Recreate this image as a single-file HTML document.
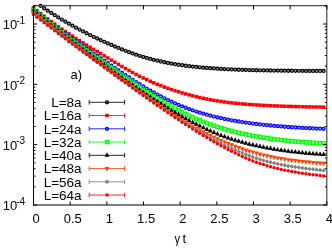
<!DOCTYPE html>
<html><head><meta charset="utf-8"><title>plot</title>
<style>html,body{margin:0;padding:0;background:#fff;}body{width:332px;height:248px;overflow:hidden;position:relative;font-family:"Liberation Sans",sans-serif;}</style></head>
<body>
<svg width="332" height="248" viewBox="0 0 332 248" style="position:absolute;left:0;top:0;will-change:transform">
<rect width="332" height="248" fill="#fff"/>
<clipPath id="c"><rect x="29.5" y="2.0" width="301.3" height="203.0"/></clipPath>
<g clip-path="url(#c)">
<g>
<circle cx="40.58" cy="5.83" r="1.55" fill="#000000" fill-opacity="0.4" stroke="#000000" stroke-width="1.2"/>
<circle cx="44.11" cy="8.27" r="1.55" fill="#000000" fill-opacity="0.4" stroke="#000000" stroke-width="1.2"/>
<circle cx="47.65" cy="10.63" r="1.55" fill="#000000" fill-opacity="0.4" stroke="#000000" stroke-width="1.2"/>
<circle cx="51.19" cy="12.95" r="1.55" fill="#000000" fill-opacity="0.4" stroke="#000000" stroke-width="1.2"/>
<circle cx="54.73" cy="15.21" r="1.55" fill="#000000" fill-opacity="0.4" stroke="#000000" stroke-width="1.2"/>
<circle cx="58.27" cy="17.41" r="1.55" fill="#000000" fill-opacity="0.4" stroke="#000000" stroke-width="1.2"/>
<circle cx="61.80" cy="19.56" r="1.55" fill="#000000" fill-opacity="0.4" stroke="#000000" stroke-width="1.2"/>
<circle cx="65.34" cy="21.66" r="1.55" fill="#000000" fill-opacity="0.4" stroke="#000000" stroke-width="1.2"/>
<circle cx="68.88" cy="23.71" r="1.55" fill="#000000" fill-opacity="0.4" stroke="#000000" stroke-width="1.2"/>
<circle cx="72.42" cy="25.71" r="1.55" fill="#000000" fill-opacity="0.4" stroke="#000000" stroke-width="1.2"/>
<circle cx="75.96" cy="27.66" r="1.55" fill="#000000" fill-opacity="0.4" stroke="#000000" stroke-width="1.2"/>
<circle cx="79.49" cy="29.57" r="1.55" fill="#000000" fill-opacity="0.4" stroke="#000000" stroke-width="1.2"/>
<circle cx="83.03" cy="31.44" r="1.55" fill="#000000" fill-opacity="0.4" stroke="#000000" stroke-width="1.2"/>
<circle cx="86.57" cy="33.26" r="1.55" fill="#000000" fill-opacity="0.4" stroke="#000000" stroke-width="1.2"/>
<circle cx="90.11" cy="35.05" r="1.55" fill="#000000" fill-opacity="0.4" stroke="#000000" stroke-width="1.2"/>
<circle cx="93.64" cy="36.79" r="1.55" fill="#000000" fill-opacity="0.4" stroke="#000000" stroke-width="1.2"/>
<circle cx="97.18" cy="38.50" r="1.55" fill="#000000" fill-opacity="0.4" stroke="#000000" stroke-width="1.2"/>
<circle cx="100.72" cy="40.16" r="1.55" fill="#000000" fill-opacity="0.4" stroke="#000000" stroke-width="1.2"/>
<circle cx="104.26" cy="41.79" r="1.55" fill="#000000" fill-opacity="0.4" stroke="#000000" stroke-width="1.2"/>
<circle cx="107.80" cy="43.40" r="1.55" fill="#000000" fill-opacity="0.4" stroke="#000000" stroke-width="1.2"/>
<circle cx="111.33" cy="44.96" r="1.55" fill="#000000" fill-opacity="0.4" stroke="#000000" stroke-width="1.2"/>
<circle cx="114.87" cy="46.49" r="1.55" fill="#000000" fill-opacity="0.4" stroke="#000000" stroke-width="1.2"/>
<circle cx="118.41" cy="47.97" r="1.55" fill="#000000" fill-opacity="0.4" stroke="#000000" stroke-width="1.2"/>
<circle cx="121.95" cy="49.41" r="1.55" fill="#000000" fill-opacity="0.4" stroke="#000000" stroke-width="1.2"/>
<circle cx="125.49" cy="50.80" r="1.55" fill="#000000" fill-opacity="0.4" stroke="#000000" stroke-width="1.2"/>
<circle cx="129.02" cy="52.14" r="1.55" fill="#000000" fill-opacity="0.4" stroke="#000000" stroke-width="1.2"/>
<circle cx="132.56" cy="53.43" r="1.55" fill="#000000" fill-opacity="0.4" stroke="#000000" stroke-width="1.2"/>
<circle cx="136.10" cy="54.64" r="1.55" fill="#000000" fill-opacity="0.4" stroke="#000000" stroke-width="1.2"/>
<circle cx="139.64" cy="55.81" r="1.55" fill="#000000" fill-opacity="0.4" stroke="#000000" stroke-width="1.2"/>
<circle cx="143.18" cy="56.92" r="1.55" fill="#000000" fill-opacity="0.4" stroke="#000000" stroke-width="1.2"/>
<circle cx="146.71" cy="57.95" r="1.55" fill="#000000" fill-opacity="0.4" stroke="#000000" stroke-width="1.2"/>
<circle cx="150.25" cy="58.93" r="1.55" fill="#000000" fill-opacity="0.4" stroke="#000000" stroke-width="1.2"/>
<circle cx="153.79" cy="59.84" r="1.55" fill="#000000" fill-opacity="0.4" stroke="#000000" stroke-width="1.2"/>
<circle cx="157.33" cy="60.69" r="1.55" fill="#000000" fill-opacity="0.4" stroke="#000000" stroke-width="1.2"/>
<circle cx="160.87" cy="61.49" r="1.55" fill="#000000" fill-opacity="0.4" stroke="#000000" stroke-width="1.2"/>
<circle cx="164.40" cy="62.23" r="1.55" fill="#000000" fill-opacity="0.4" stroke="#000000" stroke-width="1.2"/>
<circle cx="167.94" cy="62.93" r="1.55" fill="#000000" fill-opacity="0.4" stroke="#000000" stroke-width="1.2"/>
<circle cx="171.48" cy="63.58" r="1.55" fill="#000000" fill-opacity="0.4" stroke="#000000" stroke-width="1.2"/>
<circle cx="175.02" cy="64.18" r="1.55" fill="#000000" fill-opacity="0.4" stroke="#000000" stroke-width="1.2"/>
<circle cx="178.56" cy="64.73" r="1.55" fill="#000000" fill-opacity="0.4" stroke="#000000" stroke-width="1.2"/>
<circle cx="182.09" cy="65.25" r="1.55" fill="#000000" fill-opacity="0.4" stroke="#000000" stroke-width="1.2"/>
<circle cx="185.63" cy="65.73" r="1.55" fill="#000000" fill-opacity="0.4" stroke="#000000" stroke-width="1.2"/>
<circle cx="189.17" cy="66.18" r="1.55" fill="#000000" fill-opacity="0.4" stroke="#000000" stroke-width="1.2"/>
<circle cx="192.71" cy="66.59" r="1.55" fill="#000000" fill-opacity="0.4" stroke="#000000" stroke-width="1.2"/>
<circle cx="196.24" cy="66.97" r="1.55" fill="#000000" fill-opacity="0.4" stroke="#000000" stroke-width="1.2"/>
<circle cx="199.78" cy="67.32" r="1.55" fill="#000000" fill-opacity="0.4" stroke="#000000" stroke-width="1.2"/>
<circle cx="203.32" cy="67.64" r="1.55" fill="#000000" fill-opacity="0.4" stroke="#000000" stroke-width="1.2"/>
<circle cx="206.86" cy="67.95" r="1.55" fill="#000000" fill-opacity="0.4" stroke="#000000" stroke-width="1.2"/>
<circle cx="210.40" cy="68.22" r="1.55" fill="#000000" fill-opacity="0.4" stroke="#000000" stroke-width="1.2"/>
<circle cx="213.93" cy="68.47" r="1.55" fill="#000000" fill-opacity="0.4" stroke="#000000" stroke-width="1.2"/>
<circle cx="217.47" cy="68.70" r="1.55" fill="#000000" fill-opacity="0.4" stroke="#000000" stroke-width="1.2"/>
<circle cx="221.01" cy="68.91" r="1.55" fill="#000000" fill-opacity="0.4" stroke="#000000" stroke-width="1.2"/>
<circle cx="224.55" cy="69.11" r="1.55" fill="#000000" fill-opacity="0.4" stroke="#000000" stroke-width="1.2"/>
<circle cx="228.09" cy="69.28" r="1.55" fill="#000000" fill-opacity="0.4" stroke="#000000" stroke-width="1.2"/>
<circle cx="231.62" cy="69.45" r="1.55" fill="#000000" fill-opacity="0.4" stroke="#000000" stroke-width="1.2"/>
<circle cx="235.16" cy="69.59" r="1.55" fill="#000000" fill-opacity="0.4" stroke="#000000" stroke-width="1.2"/>
<circle cx="238.70" cy="69.73" r="1.55" fill="#000000" fill-opacity="0.4" stroke="#000000" stroke-width="1.2"/>
<circle cx="242.24" cy="69.85" r="1.55" fill="#000000" fill-opacity="0.4" stroke="#000000" stroke-width="1.2"/>
<circle cx="245.78" cy="69.96" r="1.55" fill="#000000" fill-opacity="0.4" stroke="#000000" stroke-width="1.2"/>
<circle cx="249.31" cy="70.07" r="1.55" fill="#000000" fill-opacity="0.4" stroke="#000000" stroke-width="1.2"/>
<circle cx="252.85" cy="70.15" r="1.55" fill="#000000" fill-opacity="0.4" stroke="#000000" stroke-width="1.2"/>
<circle cx="256.39" cy="70.24" r="1.55" fill="#000000" fill-opacity="0.4" stroke="#000000" stroke-width="1.2"/>
<circle cx="259.93" cy="70.32" r="1.55" fill="#000000" fill-opacity="0.4" stroke="#000000" stroke-width="1.2"/>
<circle cx="263.47" cy="70.39" r="1.55" fill="#000000" fill-opacity="0.4" stroke="#000000" stroke-width="1.2"/>
<circle cx="267.00" cy="70.45" r="1.55" fill="#000000" fill-opacity="0.4" stroke="#000000" stroke-width="1.2"/>
<circle cx="270.54" cy="70.51" r="1.55" fill="#000000" fill-opacity="0.4" stroke="#000000" stroke-width="1.2"/>
<circle cx="274.08" cy="70.56" r="1.55" fill="#000000" fill-opacity="0.4" stroke="#000000" stroke-width="1.2"/>
<circle cx="277.62" cy="70.61" r="1.55" fill="#000000" fill-opacity="0.4" stroke="#000000" stroke-width="1.2"/>
<circle cx="281.16" cy="70.66" r="1.55" fill="#000000" fill-opacity="0.4" stroke="#000000" stroke-width="1.2"/>
<circle cx="284.69" cy="70.70" r="1.55" fill="#000000" fill-opacity="0.4" stroke="#000000" stroke-width="1.2"/>
<circle cx="288.23" cy="70.73" r="1.55" fill="#000000" fill-opacity="0.4" stroke="#000000" stroke-width="1.2"/>
<circle cx="291.77" cy="70.76" r="1.55" fill="#000000" fill-opacity="0.4" stroke="#000000" stroke-width="1.2"/>
<circle cx="295.31" cy="70.79" r="1.55" fill="#000000" fill-opacity="0.4" stroke="#000000" stroke-width="1.2"/>
<circle cx="298.84" cy="70.82" r="1.55" fill="#000000" fill-opacity="0.4" stroke="#000000" stroke-width="1.2"/>
<circle cx="302.38" cy="70.85" r="1.55" fill="#000000" fill-opacity="0.4" stroke="#000000" stroke-width="1.2"/>
<circle cx="305.92" cy="70.88" r="1.55" fill="#000000" fill-opacity="0.4" stroke="#000000" stroke-width="1.2"/>
<circle cx="309.46" cy="70.90" r="1.55" fill="#000000" fill-opacity="0.4" stroke="#000000" stroke-width="1.2"/>
<circle cx="313.00" cy="70.91" r="1.55" fill="#000000" fill-opacity="0.4" stroke="#000000" stroke-width="1.2"/>
<circle cx="316.53" cy="70.93" r="1.55" fill="#000000" fill-opacity="0.4" stroke="#000000" stroke-width="1.2"/>
<circle cx="320.07" cy="70.94" r="1.55" fill="#000000" fill-opacity="0.4" stroke="#000000" stroke-width="1.2"/>
<circle cx="323.61" cy="70.96" r="1.55" fill="#000000" fill-opacity="0.4" stroke="#000000" stroke-width="1.2"/>
</g>
<g>
<rect x="31.75" y="6.09" width="3.5" height="3.5" fill="#ff0000"/>
<rect x="35.29" y="9.00" width="3.5" height="3.5" fill="#ff0000"/>
<rect x="38.83" y="11.82" width="3.5" height="3.5" fill="#ff0000"/>
<rect x="42.36" y="14.57" width="3.5" height="3.5" fill="#ff0000"/>
<rect x="45.90" y="17.25" width="3.5" height="3.5" fill="#ff0000"/>
<rect x="49.44" y="19.85" width="3.5" height="3.5" fill="#ff0000"/>
<rect x="52.98" y="22.40" width="3.5" height="3.5" fill="#ff0000"/>
<rect x="56.52" y="24.90" width="3.5" height="3.5" fill="#ff0000"/>
<rect x="60.05" y="27.34" width="3.5" height="3.5" fill="#ff0000"/>
<rect x="63.59" y="29.73" width="3.5" height="3.5" fill="#ff0000"/>
<rect x="67.13" y="32.08" width="3.5" height="3.5" fill="#ff0000"/>
<rect x="70.67" y="34.39" width="3.5" height="3.5" fill="#ff0000"/>
<rect x="74.21" y="36.67" width="3.5" height="3.5" fill="#ff0000"/>
<rect x="77.74" y="38.91" width="3.5" height="3.5" fill="#ff0000"/>
<rect x="81.28" y="41.13" width="3.5" height="3.5" fill="#ff0000"/>
<rect x="84.82" y="43.33" width="3.5" height="3.5" fill="#ff0000"/>
<rect x="88.36" y="45.50" width="3.5" height="3.5" fill="#ff0000"/>
<rect x="91.89" y="47.66" width="3.5" height="3.5" fill="#ff0000"/>
<rect x="95.43" y="49.82" width="3.5" height="3.5" fill="#ff0000"/>
<rect x="98.97" y="51.96" width="3.5" height="3.5" fill="#ff0000"/>
<rect x="102.51" y="54.10" width="3.5" height="3.5" fill="#ff0000"/>
<rect x="106.05" y="56.24" width="3.5" height="3.5" fill="#ff0000"/>
<rect x="109.58" y="58.38" width="3.5" height="3.5" fill="#ff0000"/>
<rect x="113.12" y="60.51" width="3.5" height="3.5" fill="#ff0000"/>
<rect x="116.66" y="62.62" width="3.5" height="3.5" fill="#ff0000"/>
<rect x="120.20" y="64.71" width="3.5" height="3.5" fill="#ff0000"/>
<rect x="123.74" y="66.76" width="3.5" height="3.5" fill="#ff0000"/>
<rect x="127.27" y="68.77" width="3.5" height="3.5" fill="#ff0000"/>
<rect x="130.81" y="70.74" width="3.5" height="3.5" fill="#ff0000"/>
<rect x="134.35" y="72.65" width="3.5" height="3.5" fill="#ff0000"/>
<rect x="137.89" y="74.49" width="3.5" height="3.5" fill="#ff0000"/>
<rect x="141.43" y="76.27" width="3.5" height="3.5" fill="#ff0000"/>
<rect x="144.96" y="77.96" width="3.5" height="3.5" fill="#ff0000"/>
<rect x="148.50" y="79.58" width="3.5" height="3.5" fill="#ff0000"/>
<rect x="152.04" y="81.12" width="3.5" height="3.5" fill="#ff0000"/>
<rect x="155.58" y="82.58" width="3.5" height="3.5" fill="#ff0000"/>
<rect x="159.12" y="83.98" width="3.5" height="3.5" fill="#ff0000"/>
<rect x="162.65" y="85.31" width="3.5" height="3.5" fill="#ff0000"/>
<rect x="166.19" y="86.58" width="3.5" height="3.5" fill="#ff0000"/>
<rect x="169.73" y="87.79" width="3.5" height="3.5" fill="#ff0000"/>
<rect x="173.27" y="88.94" width="3.5" height="3.5" fill="#ff0000"/>
<rect x="176.81" y="90.05" width="3.5" height="3.5" fill="#ff0000"/>
<rect x="180.34" y="91.12" width="3.5" height="3.5" fill="#ff0000"/>
<rect x="183.88" y="92.14" width="3.5" height="3.5" fill="#ff0000"/>
<rect x="187.42" y="93.11" width="3.5" height="3.5" fill="#ff0000"/>
<rect x="190.96" y="94.04" width="3.5" height="3.5" fill="#ff0000"/>
<rect x="194.49" y="94.92" width="3.5" height="3.5" fill="#ff0000"/>
<rect x="198.03" y="95.75" width="3.5" height="3.5" fill="#ff0000"/>
<rect x="201.57" y="96.53" width="3.5" height="3.5" fill="#ff0000"/>
<rect x="205.11" y="97.27" width="3.5" height="3.5" fill="#ff0000"/>
<rect x="208.65" y="97.96" width="3.5" height="3.5" fill="#ff0000"/>
<rect x="212.18" y="98.61" width="3.5" height="3.5" fill="#ff0000"/>
<rect x="215.72" y="99.20" width="3.5" height="3.5" fill="#ff0000"/>
<rect x="219.26" y="99.74" width="3.5" height="3.5" fill="#ff0000"/>
<rect x="222.80" y="100.23" width="3.5" height="3.5" fill="#ff0000"/>
<rect x="226.34" y="100.69" width="3.5" height="3.5" fill="#ff0000"/>
<rect x="229.87" y="101.11" width="3.5" height="3.5" fill="#ff0000"/>
<rect x="233.41" y="101.49" width="3.5" height="3.5" fill="#ff0000"/>
<rect x="236.95" y="101.84" width="3.5" height="3.5" fill="#ff0000"/>
<rect x="240.49" y="102.16" width="3.5" height="3.5" fill="#ff0000"/>
<rect x="244.03" y="102.45" width="3.5" height="3.5" fill="#ff0000"/>
<rect x="247.56" y="102.71" width="3.5" height="3.5" fill="#ff0000"/>
<rect x="251.10" y="102.96" width="3.5" height="3.5" fill="#ff0000"/>
<rect x="254.64" y="103.18" width="3.5" height="3.5" fill="#ff0000"/>
<rect x="258.18" y="103.40" width="3.5" height="3.5" fill="#ff0000"/>
<rect x="261.72" y="103.60" width="3.5" height="3.5" fill="#ff0000"/>
<rect x="265.25" y="103.78" width="3.5" height="3.5" fill="#ff0000"/>
<rect x="268.79" y="103.94" width="3.5" height="3.5" fill="#ff0000"/>
<rect x="272.33" y="104.09" width="3.5" height="3.5" fill="#ff0000"/>
<rect x="275.87" y="104.24" width="3.5" height="3.5" fill="#ff0000"/>
<rect x="279.41" y="104.37" width="3.5" height="3.5" fill="#ff0000"/>
<rect x="282.94" y="104.49" width="3.5" height="3.5" fill="#ff0000"/>
<rect x="286.48" y="104.61" width="3.5" height="3.5" fill="#ff0000"/>
<rect x="290.02" y="104.72" width="3.5" height="3.5" fill="#ff0000"/>
<rect x="293.56" y="104.81" width="3.5" height="3.5" fill="#ff0000"/>
<rect x="297.09" y="104.90" width="3.5" height="3.5" fill="#ff0000"/>
<rect x="300.63" y="104.99" width="3.5" height="3.5" fill="#ff0000"/>
<rect x="304.17" y="105.06" width="3.5" height="3.5" fill="#ff0000"/>
<rect x="307.71" y="105.14" width="3.5" height="3.5" fill="#ff0000"/>
<rect x="311.25" y="105.21" width="3.5" height="3.5" fill="#ff0000"/>
<rect x="314.78" y="105.27" width="3.5" height="3.5" fill="#ff0000"/>
<rect x="318.32" y="105.33" width="3.5" height="3.5" fill="#ff0000"/>
<rect x="321.86" y="105.39" width="3.5" height="3.5" fill="#ff0000"/>
</g>
<g>
<circle cx="33.50" cy="8.88" r="1.55" fill="#0000ff" fill-opacity="0.4" stroke="#0000ff" stroke-width="1.2"/>
<circle cx="37.04" cy="11.78" r="1.55" fill="#0000ff" fill-opacity="0.4" stroke="#0000ff" stroke-width="1.2"/>
<circle cx="40.58" cy="14.63" r="1.55" fill="#0000ff" fill-opacity="0.4" stroke="#0000ff" stroke-width="1.2"/>
<circle cx="44.11" cy="17.44" r="1.55" fill="#0000ff" fill-opacity="0.4" stroke="#0000ff" stroke-width="1.2"/>
<circle cx="47.65" cy="20.20" r="1.55" fill="#0000ff" fill-opacity="0.4" stroke="#0000ff" stroke-width="1.2"/>
<circle cx="51.19" cy="22.93" r="1.55" fill="#0000ff" fill-opacity="0.4" stroke="#0000ff" stroke-width="1.2"/>
<circle cx="54.73" cy="25.63" r="1.55" fill="#0000ff" fill-opacity="0.4" stroke="#0000ff" stroke-width="1.2"/>
<circle cx="58.27" cy="28.28" r="1.55" fill="#0000ff" fill-opacity="0.4" stroke="#0000ff" stroke-width="1.2"/>
<circle cx="61.80" cy="30.91" r="1.55" fill="#0000ff" fill-opacity="0.4" stroke="#0000ff" stroke-width="1.2"/>
<circle cx="65.34" cy="33.51" r="1.55" fill="#0000ff" fill-opacity="0.4" stroke="#0000ff" stroke-width="1.2"/>
<circle cx="68.88" cy="36.08" r="1.55" fill="#0000ff" fill-opacity="0.4" stroke="#0000ff" stroke-width="1.2"/>
<circle cx="72.42" cy="38.63" r="1.55" fill="#0000ff" fill-opacity="0.4" stroke="#0000ff" stroke-width="1.2"/>
<circle cx="75.96" cy="41.16" r="1.55" fill="#0000ff" fill-opacity="0.4" stroke="#0000ff" stroke-width="1.2"/>
<circle cx="79.49" cy="43.66" r="1.55" fill="#0000ff" fill-opacity="0.4" stroke="#0000ff" stroke-width="1.2"/>
<circle cx="83.03" cy="46.15" r="1.55" fill="#0000ff" fill-opacity="0.4" stroke="#0000ff" stroke-width="1.2"/>
<circle cx="86.57" cy="48.63" r="1.55" fill="#0000ff" fill-opacity="0.4" stroke="#0000ff" stroke-width="1.2"/>
<circle cx="90.11" cy="51.09" r="1.55" fill="#0000ff" fill-opacity="0.4" stroke="#0000ff" stroke-width="1.2"/>
<circle cx="93.64" cy="53.54" r="1.55" fill="#0000ff" fill-opacity="0.4" stroke="#0000ff" stroke-width="1.2"/>
<circle cx="97.18" cy="55.97" r="1.55" fill="#0000ff" fill-opacity="0.4" stroke="#0000ff" stroke-width="1.2"/>
<circle cx="100.72" cy="58.40" r="1.55" fill="#0000ff" fill-opacity="0.4" stroke="#0000ff" stroke-width="1.2"/>
<circle cx="104.26" cy="60.83" r="1.55" fill="#0000ff" fill-opacity="0.4" stroke="#0000ff" stroke-width="1.2"/>
<circle cx="107.80" cy="63.25" r="1.55" fill="#0000ff" fill-opacity="0.4" stroke="#0000ff" stroke-width="1.2"/>
<circle cx="111.33" cy="65.66" r="1.55" fill="#0000ff" fill-opacity="0.4" stroke="#0000ff" stroke-width="1.2"/>
<circle cx="114.87" cy="68.06" r="1.55" fill="#0000ff" fill-opacity="0.4" stroke="#0000ff" stroke-width="1.2"/>
<circle cx="118.41" cy="70.45" r="1.55" fill="#0000ff" fill-opacity="0.4" stroke="#0000ff" stroke-width="1.2"/>
<circle cx="121.95" cy="72.83" r="1.55" fill="#0000ff" fill-opacity="0.4" stroke="#0000ff" stroke-width="1.2"/>
<circle cx="125.49" cy="75.18" r="1.55" fill="#0000ff" fill-opacity="0.4" stroke="#0000ff" stroke-width="1.2"/>
<circle cx="129.02" cy="77.50" r="1.55" fill="#0000ff" fill-opacity="0.4" stroke="#0000ff" stroke-width="1.2"/>
<circle cx="132.56" cy="79.79" r="1.55" fill="#0000ff" fill-opacity="0.4" stroke="#0000ff" stroke-width="1.2"/>
<circle cx="136.10" cy="82.05" r="1.55" fill="#0000ff" fill-opacity="0.4" stroke="#0000ff" stroke-width="1.2"/>
<circle cx="139.64" cy="84.26" r="1.55" fill="#0000ff" fill-opacity="0.4" stroke="#0000ff" stroke-width="1.2"/>
<circle cx="143.18" cy="86.42" r="1.55" fill="#0000ff" fill-opacity="0.4" stroke="#0000ff" stroke-width="1.2"/>
<circle cx="146.71" cy="88.54" r="1.55" fill="#0000ff" fill-opacity="0.4" stroke="#0000ff" stroke-width="1.2"/>
<circle cx="150.25" cy="90.60" r="1.55" fill="#0000ff" fill-opacity="0.4" stroke="#0000ff" stroke-width="1.2"/>
<circle cx="153.79" cy="92.61" r="1.55" fill="#0000ff" fill-opacity="0.4" stroke="#0000ff" stroke-width="1.2"/>
<circle cx="157.33" cy="94.56" r="1.55" fill="#0000ff" fill-opacity="0.4" stroke="#0000ff" stroke-width="1.2"/>
<circle cx="160.87" cy="96.45" r="1.55" fill="#0000ff" fill-opacity="0.4" stroke="#0000ff" stroke-width="1.2"/>
<circle cx="164.40" cy="98.28" r="1.55" fill="#0000ff" fill-opacity="0.4" stroke="#0000ff" stroke-width="1.2"/>
<circle cx="167.94" cy="100.03" r="1.55" fill="#0000ff" fill-opacity="0.4" stroke="#0000ff" stroke-width="1.2"/>
<circle cx="171.48" cy="101.72" r="1.55" fill="#0000ff" fill-opacity="0.4" stroke="#0000ff" stroke-width="1.2"/>
<circle cx="175.02" cy="103.33" r="1.55" fill="#0000ff" fill-opacity="0.4" stroke="#0000ff" stroke-width="1.2"/>
<circle cx="178.56" cy="104.88" r="1.55" fill="#0000ff" fill-opacity="0.4" stroke="#0000ff" stroke-width="1.2"/>
<circle cx="182.09" cy="106.35" r="1.55" fill="#0000ff" fill-opacity="0.4" stroke="#0000ff" stroke-width="1.2"/>
<circle cx="185.63" cy="107.75" r="1.55" fill="#0000ff" fill-opacity="0.4" stroke="#0000ff" stroke-width="1.2"/>
<circle cx="189.17" cy="109.08" r="1.55" fill="#0000ff" fill-opacity="0.4" stroke="#0000ff" stroke-width="1.2"/>
<circle cx="192.71" cy="110.33" r="1.55" fill="#0000ff" fill-opacity="0.4" stroke="#0000ff" stroke-width="1.2"/>
<circle cx="196.24" cy="111.53" r="1.55" fill="#0000ff" fill-opacity="0.4" stroke="#0000ff" stroke-width="1.2"/>
<circle cx="199.78" cy="112.66" r="1.55" fill="#0000ff" fill-opacity="0.4" stroke="#0000ff" stroke-width="1.2"/>
<circle cx="203.32" cy="113.71" r="1.55" fill="#0000ff" fill-opacity="0.4" stroke="#0000ff" stroke-width="1.2"/>
<circle cx="206.86" cy="114.71" r="1.55" fill="#0000ff" fill-opacity="0.4" stroke="#0000ff" stroke-width="1.2"/>
<circle cx="210.40" cy="115.66" r="1.55" fill="#0000ff" fill-opacity="0.4" stroke="#0000ff" stroke-width="1.2"/>
<circle cx="213.93" cy="116.54" r="1.55" fill="#0000ff" fill-opacity="0.4" stroke="#0000ff" stroke-width="1.2"/>
<circle cx="217.47" cy="117.38" r="1.55" fill="#0000ff" fill-opacity="0.4" stroke="#0000ff" stroke-width="1.2"/>
<circle cx="221.01" cy="118.18" r="1.55" fill="#0000ff" fill-opacity="0.4" stroke="#0000ff" stroke-width="1.2"/>
<circle cx="224.55" cy="118.92" r="1.55" fill="#0000ff" fill-opacity="0.4" stroke="#0000ff" stroke-width="1.2"/>
<circle cx="228.09" cy="119.62" r="1.55" fill="#0000ff" fill-opacity="0.4" stroke="#0000ff" stroke-width="1.2"/>
<circle cx="231.62" cy="120.29" r="1.55" fill="#0000ff" fill-opacity="0.4" stroke="#0000ff" stroke-width="1.2"/>
<circle cx="235.16" cy="120.91" r="1.55" fill="#0000ff" fill-opacity="0.4" stroke="#0000ff" stroke-width="1.2"/>
<circle cx="238.70" cy="121.50" r="1.55" fill="#0000ff" fill-opacity="0.4" stroke="#0000ff" stroke-width="1.2"/>
<circle cx="242.24" cy="122.05" r="1.55" fill="#0000ff" fill-opacity="0.4" stroke="#0000ff" stroke-width="1.2"/>
<circle cx="245.78" cy="122.58" r="1.55" fill="#0000ff" fill-opacity="0.4" stroke="#0000ff" stroke-width="1.2"/>
<circle cx="249.31" cy="123.07" r="1.55" fill="#0000ff" fill-opacity="0.4" stroke="#0000ff" stroke-width="1.2"/>
<circle cx="252.85" cy="123.54" r="1.55" fill="#0000ff" fill-opacity="0.4" stroke="#0000ff" stroke-width="1.2"/>
<circle cx="256.39" cy="123.98" r="1.55" fill="#0000ff" fill-opacity="0.4" stroke="#0000ff" stroke-width="1.2"/>
<circle cx="259.93" cy="124.39" r="1.55" fill="#0000ff" fill-opacity="0.4" stroke="#0000ff" stroke-width="1.2"/>
<circle cx="263.47" cy="124.79" r="1.55" fill="#0000ff" fill-opacity="0.4" stroke="#0000ff" stroke-width="1.2"/>
<circle cx="267.00" cy="125.17" r="1.55" fill="#0000ff" fill-opacity="0.4" stroke="#0000ff" stroke-width="1.2"/>
<circle cx="270.54" cy="125.51" r="1.55" fill="#0000ff" fill-opacity="0.4" stroke="#0000ff" stroke-width="1.2"/>
<circle cx="274.08" cy="125.84" r="1.55" fill="#0000ff" fill-opacity="0.4" stroke="#0000ff" stroke-width="1.2"/>
<circle cx="277.62" cy="126.16" r="1.55" fill="#0000ff" fill-opacity="0.4" stroke="#0000ff" stroke-width="1.2"/>
<circle cx="281.16" cy="126.46" r="1.55" fill="#0000ff" fill-opacity="0.4" stroke="#0000ff" stroke-width="1.2"/>
<circle cx="284.69" cy="126.74" r="1.55" fill="#0000ff" fill-opacity="0.4" stroke="#0000ff" stroke-width="1.2"/>
<circle cx="288.23" cy="127.00" r="1.55" fill="#0000ff" fill-opacity="0.4" stroke="#0000ff" stroke-width="1.2"/>
<circle cx="291.77" cy="127.25" r="1.55" fill="#0000ff" fill-opacity="0.4" stroke="#0000ff" stroke-width="1.2"/>
<circle cx="295.31" cy="127.49" r="1.55" fill="#0000ff" fill-opacity="0.4" stroke="#0000ff" stroke-width="1.2"/>
<circle cx="298.84" cy="127.70" r="1.55" fill="#0000ff" fill-opacity="0.4" stroke="#0000ff" stroke-width="1.2"/>
<circle cx="302.38" cy="127.90" r="1.55" fill="#0000ff" fill-opacity="0.4" stroke="#0000ff" stroke-width="1.2"/>
<circle cx="305.92" cy="128.10" r="1.55" fill="#0000ff" fill-opacity="0.4" stroke="#0000ff" stroke-width="1.2"/>
<circle cx="309.46" cy="128.27" r="1.55" fill="#0000ff" fill-opacity="0.4" stroke="#0000ff" stroke-width="1.2"/>
<circle cx="313.00" cy="128.43" r="1.55" fill="#0000ff" fill-opacity="0.4" stroke="#0000ff" stroke-width="1.2"/>
<circle cx="316.53" cy="128.58" r="1.55" fill="#0000ff" fill-opacity="0.4" stroke="#0000ff" stroke-width="1.2"/>
<circle cx="320.07" cy="128.71" r="1.55" fill="#0000ff" fill-opacity="0.4" stroke="#0000ff" stroke-width="1.2"/>
<circle cx="323.61" cy="128.84" r="1.55" fill="#0000ff" fill-opacity="0.4" stroke="#0000ff" stroke-width="1.2"/>
</g>
<g>
<rect x="31.80" y="8.18" width="3.4" height="3.4" fill="#00ff00" fill-opacity="0.4" stroke="#00ff00" stroke-width="1.15"/>
<rect x="35.34" y="11.10" width="3.4" height="3.4" fill="#00ff00" fill-opacity="0.4" stroke="#00ff00" stroke-width="1.15"/>
<rect x="38.88" y="13.99" width="3.4" height="3.4" fill="#00ff00" fill-opacity="0.4" stroke="#00ff00" stroke-width="1.15"/>
<rect x="42.41" y="16.84" width="3.4" height="3.4" fill="#00ff00" fill-opacity="0.4" stroke="#00ff00" stroke-width="1.15"/>
<rect x="45.95" y="19.66" width="3.4" height="3.4" fill="#00ff00" fill-opacity="0.4" stroke="#00ff00" stroke-width="1.15"/>
<rect x="49.49" y="22.45" width="3.4" height="3.4" fill="#00ff00" fill-opacity="0.4" stroke="#00ff00" stroke-width="1.15"/>
<rect x="53.03" y="25.20" width="3.4" height="3.4" fill="#00ff00" fill-opacity="0.4" stroke="#00ff00" stroke-width="1.15"/>
<rect x="56.57" y="27.93" width="3.4" height="3.4" fill="#00ff00" fill-opacity="0.4" stroke="#00ff00" stroke-width="1.15"/>
<rect x="60.10" y="30.63" width="3.4" height="3.4" fill="#00ff00" fill-opacity="0.4" stroke="#00ff00" stroke-width="1.15"/>
<rect x="63.64" y="33.30" width="3.4" height="3.4" fill="#00ff00" fill-opacity="0.4" stroke="#00ff00" stroke-width="1.15"/>
<rect x="67.18" y="35.95" width="3.4" height="3.4" fill="#00ff00" fill-opacity="0.4" stroke="#00ff00" stroke-width="1.15"/>
<rect x="70.72" y="38.59" width="3.4" height="3.4" fill="#00ff00" fill-opacity="0.4" stroke="#00ff00" stroke-width="1.15"/>
<rect x="74.26" y="41.20" width="3.4" height="3.4" fill="#00ff00" fill-opacity="0.4" stroke="#00ff00" stroke-width="1.15"/>
<rect x="77.79" y="43.79" width="3.4" height="3.4" fill="#00ff00" fill-opacity="0.4" stroke="#00ff00" stroke-width="1.15"/>
<rect x="81.33" y="46.36" width="3.4" height="3.4" fill="#00ff00" fill-opacity="0.4" stroke="#00ff00" stroke-width="1.15"/>
<rect x="84.87" y="48.92" width="3.4" height="3.4" fill="#00ff00" fill-opacity="0.4" stroke="#00ff00" stroke-width="1.15"/>
<rect x="88.41" y="51.46" width="3.4" height="3.4" fill="#00ff00" fill-opacity="0.4" stroke="#00ff00" stroke-width="1.15"/>
<rect x="91.94" y="53.99" width="3.4" height="3.4" fill="#00ff00" fill-opacity="0.4" stroke="#00ff00" stroke-width="1.15"/>
<rect x="95.48" y="56.51" width="3.4" height="3.4" fill="#00ff00" fill-opacity="0.4" stroke="#00ff00" stroke-width="1.15"/>
<rect x="99.02" y="59.02" width="3.4" height="3.4" fill="#00ff00" fill-opacity="0.4" stroke="#00ff00" stroke-width="1.15"/>
<rect x="102.56" y="61.52" width="3.4" height="3.4" fill="#00ff00" fill-opacity="0.4" stroke="#00ff00" stroke-width="1.15"/>
<rect x="106.10" y="64.00" width="3.4" height="3.4" fill="#00ff00" fill-opacity="0.4" stroke="#00ff00" stroke-width="1.15"/>
<rect x="109.63" y="66.48" width="3.4" height="3.4" fill="#00ff00" fill-opacity="0.4" stroke="#00ff00" stroke-width="1.15"/>
<rect x="113.17" y="68.96" width="3.4" height="3.4" fill="#00ff00" fill-opacity="0.4" stroke="#00ff00" stroke-width="1.15"/>
<rect x="116.71" y="71.42" width="3.4" height="3.4" fill="#00ff00" fill-opacity="0.4" stroke="#00ff00" stroke-width="1.15"/>
<rect x="120.25" y="73.86" width="3.4" height="3.4" fill="#00ff00" fill-opacity="0.4" stroke="#00ff00" stroke-width="1.15"/>
<rect x="123.79" y="76.29" width="3.4" height="3.4" fill="#00ff00" fill-opacity="0.4" stroke="#00ff00" stroke-width="1.15"/>
<rect x="127.32" y="78.70" width="3.4" height="3.4" fill="#00ff00" fill-opacity="0.4" stroke="#00ff00" stroke-width="1.15"/>
<rect x="130.86" y="81.08" width="3.4" height="3.4" fill="#00ff00" fill-opacity="0.4" stroke="#00ff00" stroke-width="1.15"/>
<rect x="134.40" y="83.43" width="3.4" height="3.4" fill="#00ff00" fill-opacity="0.4" stroke="#00ff00" stroke-width="1.15"/>
<rect x="137.94" y="85.76" width="3.4" height="3.4" fill="#00ff00" fill-opacity="0.4" stroke="#00ff00" stroke-width="1.15"/>
<rect x="141.48" y="88.06" width="3.4" height="3.4" fill="#00ff00" fill-opacity="0.4" stroke="#00ff00" stroke-width="1.15"/>
<rect x="145.01" y="90.32" width="3.4" height="3.4" fill="#00ff00" fill-opacity="0.4" stroke="#00ff00" stroke-width="1.15"/>
<rect x="148.55" y="92.55" width="3.4" height="3.4" fill="#00ff00" fill-opacity="0.4" stroke="#00ff00" stroke-width="1.15"/>
<rect x="152.09" y="94.74" width="3.4" height="3.4" fill="#00ff00" fill-opacity="0.4" stroke="#00ff00" stroke-width="1.15"/>
<rect x="155.63" y="96.89" width="3.4" height="3.4" fill="#00ff00" fill-opacity="0.4" stroke="#00ff00" stroke-width="1.15"/>
<rect x="159.17" y="98.99" width="3.4" height="3.4" fill="#00ff00" fill-opacity="0.4" stroke="#00ff00" stroke-width="1.15"/>
<rect x="162.70" y="101.05" width="3.4" height="3.4" fill="#00ff00" fill-opacity="0.4" stroke="#00ff00" stroke-width="1.15"/>
<rect x="166.24" y="103.06" width="3.4" height="3.4" fill="#00ff00" fill-opacity="0.4" stroke="#00ff00" stroke-width="1.15"/>
<rect x="169.78" y="105.02" width="3.4" height="3.4" fill="#00ff00" fill-opacity="0.4" stroke="#00ff00" stroke-width="1.15"/>
<rect x="173.32" y="106.93" width="3.4" height="3.4" fill="#00ff00" fill-opacity="0.4" stroke="#00ff00" stroke-width="1.15"/>
<rect x="176.86" y="108.78" width="3.4" height="3.4" fill="#00ff00" fill-opacity="0.4" stroke="#00ff00" stroke-width="1.15"/>
<rect x="180.39" y="110.58" width="3.4" height="3.4" fill="#00ff00" fill-opacity="0.4" stroke="#00ff00" stroke-width="1.15"/>
<rect x="183.93" y="112.31" width="3.4" height="3.4" fill="#00ff00" fill-opacity="0.4" stroke="#00ff00" stroke-width="1.15"/>
<rect x="187.47" y="113.99" width="3.4" height="3.4" fill="#00ff00" fill-opacity="0.4" stroke="#00ff00" stroke-width="1.15"/>
<rect x="191.01" y="115.61" width="3.4" height="3.4" fill="#00ff00" fill-opacity="0.4" stroke="#00ff00" stroke-width="1.15"/>
<rect x="194.54" y="117.17" width="3.4" height="3.4" fill="#00ff00" fill-opacity="0.4" stroke="#00ff00" stroke-width="1.15"/>
<rect x="198.08" y="118.67" width="3.4" height="3.4" fill="#00ff00" fill-opacity="0.4" stroke="#00ff00" stroke-width="1.15"/>
<rect x="201.62" y="120.11" width="3.4" height="3.4" fill="#00ff00" fill-opacity="0.4" stroke="#00ff00" stroke-width="1.15"/>
<rect x="205.16" y="121.48" width="3.4" height="3.4" fill="#00ff00" fill-opacity="0.4" stroke="#00ff00" stroke-width="1.15"/>
<rect x="208.70" y="122.78" width="3.4" height="3.4" fill="#00ff00" fill-opacity="0.4" stroke="#00ff00" stroke-width="1.15"/>
<rect x="212.23" y="124.03" width="3.4" height="3.4" fill="#00ff00" fill-opacity="0.4" stroke="#00ff00" stroke-width="1.15"/>
<rect x="215.77" y="125.22" width="3.4" height="3.4" fill="#00ff00" fill-opacity="0.4" stroke="#00ff00" stroke-width="1.15"/>
<rect x="219.31" y="126.35" width="3.4" height="3.4" fill="#00ff00" fill-opacity="0.4" stroke="#00ff00" stroke-width="1.15"/>
<rect x="222.85" y="127.41" width="3.4" height="3.4" fill="#00ff00" fill-opacity="0.4" stroke="#00ff00" stroke-width="1.15"/>
<rect x="226.39" y="128.42" width="3.4" height="3.4" fill="#00ff00" fill-opacity="0.4" stroke="#00ff00" stroke-width="1.15"/>
<rect x="229.92" y="129.37" width="3.4" height="3.4" fill="#00ff00" fill-opacity="0.4" stroke="#00ff00" stroke-width="1.15"/>
<rect x="233.46" y="130.27" width="3.4" height="3.4" fill="#00ff00" fill-opacity="0.4" stroke="#00ff00" stroke-width="1.15"/>
<rect x="237.00" y="131.12" width="3.4" height="3.4" fill="#00ff00" fill-opacity="0.4" stroke="#00ff00" stroke-width="1.15"/>
<rect x="240.54" y="131.93" width="3.4" height="3.4" fill="#00ff00" fill-opacity="0.4" stroke="#00ff00" stroke-width="1.15"/>
<rect x="244.08" y="132.68" width="3.4" height="3.4" fill="#00ff00" fill-opacity="0.4" stroke="#00ff00" stroke-width="1.15"/>
<rect x="247.61" y="133.40" width="3.4" height="3.4" fill="#00ff00" fill-opacity="0.4" stroke="#00ff00" stroke-width="1.15"/>
<rect x="251.15" y="134.08" width="3.4" height="3.4" fill="#00ff00" fill-opacity="0.4" stroke="#00ff00" stroke-width="1.15"/>
<rect x="254.69" y="134.73" width="3.4" height="3.4" fill="#00ff00" fill-opacity="0.4" stroke="#00ff00" stroke-width="1.15"/>
<rect x="258.23" y="135.34" width="3.4" height="3.4" fill="#00ff00" fill-opacity="0.4" stroke="#00ff00" stroke-width="1.15"/>
<rect x="261.77" y="135.92" width="3.4" height="3.4" fill="#00ff00" fill-opacity="0.4" stroke="#00ff00" stroke-width="1.15"/>
<rect x="265.30" y="136.46" width="3.4" height="3.4" fill="#00ff00" fill-opacity="0.4" stroke="#00ff00" stroke-width="1.15"/>
<rect x="268.84" y="136.98" width="3.4" height="3.4" fill="#00ff00" fill-opacity="0.4" stroke="#00ff00" stroke-width="1.15"/>
<rect x="272.38" y="137.47" width="3.4" height="3.4" fill="#00ff00" fill-opacity="0.4" stroke="#00ff00" stroke-width="1.15"/>
<rect x="275.92" y="137.92" width="3.4" height="3.4" fill="#00ff00" fill-opacity="0.4" stroke="#00ff00" stroke-width="1.15"/>
<rect x="279.46" y="138.36" width="3.4" height="3.4" fill="#00ff00" fill-opacity="0.4" stroke="#00ff00" stroke-width="1.15"/>
<rect x="282.99" y="138.76" width="3.4" height="3.4" fill="#00ff00" fill-opacity="0.4" stroke="#00ff00" stroke-width="1.15"/>
<rect x="286.53" y="139.14" width="3.4" height="3.4" fill="#00ff00" fill-opacity="0.4" stroke="#00ff00" stroke-width="1.15"/>
<rect x="290.07" y="139.49" width="3.4" height="3.4" fill="#00ff00" fill-opacity="0.4" stroke="#00ff00" stroke-width="1.15"/>
<rect x="293.61" y="139.82" width="3.4" height="3.4" fill="#00ff00" fill-opacity="0.4" stroke="#00ff00" stroke-width="1.15"/>
<rect x="297.14" y="140.13" width="3.4" height="3.4" fill="#00ff00" fill-opacity="0.4" stroke="#00ff00" stroke-width="1.15"/>
<rect x="300.68" y="140.41" width="3.4" height="3.4" fill="#00ff00" fill-opacity="0.4" stroke="#00ff00" stroke-width="1.15"/>
<rect x="304.22" y="140.67" width="3.4" height="3.4" fill="#00ff00" fill-opacity="0.4" stroke="#00ff00" stroke-width="1.15"/>
<rect x="307.76" y="140.90" width="3.4" height="3.4" fill="#00ff00" fill-opacity="0.4" stroke="#00ff00" stroke-width="1.15"/>
<rect x="311.30" y="141.12" width="3.4" height="3.4" fill="#00ff00" fill-opacity="0.4" stroke="#00ff00" stroke-width="1.15"/>
<rect x="314.83" y="141.32" width="3.4" height="3.4" fill="#00ff00" fill-opacity="0.4" stroke="#00ff00" stroke-width="1.15"/>
<rect x="318.37" y="141.50" width="3.4" height="3.4" fill="#00ff00" fill-opacity="0.4" stroke="#00ff00" stroke-width="1.15"/>
<rect x="321.91" y="141.65" width="3.4" height="3.4" fill="#00ff00" fill-opacity="0.4" stroke="#00ff00" stroke-width="1.15"/>
</g>
<g>
<path d="M33.50 8.04L35.90 12.53L31.10 12.53Z" fill="#000000"/>
<path d="M37.04 10.93L39.44 15.41L34.64 15.41Z" fill="#000000"/>
<path d="M40.58 13.78L42.98 18.27L38.18 18.27Z" fill="#000000"/>
<path d="M44.11 16.62L46.51 21.11L41.71 21.11Z" fill="#000000"/>
<path d="M47.65 19.43L50.05 23.92L45.25 23.92Z" fill="#000000"/>
<path d="M51.19 22.23L53.59 26.71L48.79 26.71Z" fill="#000000"/>
<path d="M54.73 25.00L57.13 29.49L52.33 29.49Z" fill="#000000"/>
<path d="M58.27 27.75L60.67 32.23L55.87 32.23Z" fill="#000000"/>
<path d="M61.80 30.48L64.20 34.97L59.40 34.97Z" fill="#000000"/>
<path d="M65.34 33.20L67.74 37.69L62.94 37.69Z" fill="#000000"/>
<path d="M68.88 35.90L71.28 40.38L66.48 40.38Z" fill="#000000"/>
<path d="M72.42 38.58L74.82 43.06L70.02 43.06Z" fill="#000000"/>
<path d="M75.96 41.24L78.36 45.73L73.56 45.73Z" fill="#000000"/>
<path d="M79.49 43.90L81.89 48.38L77.09 48.38Z" fill="#000000"/>
<path d="M83.03 46.53L85.43 51.02L80.63 51.02Z" fill="#000000"/>
<path d="M86.57 49.16L88.97 53.65L84.17 53.65Z" fill="#000000"/>
<path d="M90.11 51.77L92.51 56.26L87.71 56.26Z" fill="#000000"/>
<path d="M93.64 54.37L96.04 58.86L91.24 58.86Z" fill="#000000"/>
<path d="M97.18 56.95L99.58 61.44L94.78 61.44Z" fill="#000000"/>
<path d="M100.72 59.52L103.12 64.01L98.32 64.01Z" fill="#000000"/>
<path d="M104.26 62.09L106.66 66.57L101.86 66.57Z" fill="#000000"/>
<path d="M107.80 64.64L110.20 69.13L105.40 69.13Z" fill="#000000"/>
<path d="M111.33 67.17L113.73 71.66L108.93 71.66Z" fill="#000000"/>
<path d="M114.87 69.70L117.27 74.19L112.47 74.19Z" fill="#000000"/>
<path d="M118.41 72.21L120.81 76.69L116.01 76.69Z" fill="#000000"/>
<path d="M121.95 74.70L124.35 79.19L119.55 79.19Z" fill="#000000"/>
<path d="M125.49 77.18L127.89 81.67L123.09 81.67Z" fill="#000000"/>
<path d="M129.02 79.65L131.42 84.14L126.62 84.14Z" fill="#000000"/>
<path d="M132.56 82.09L134.96 86.58L130.16 86.58Z" fill="#000000"/>
<path d="M136.10 84.52L138.50 89.01L133.70 89.01Z" fill="#000000"/>
<path d="M139.64 86.93L142.04 91.41L137.24 91.41Z" fill="#000000"/>
<path d="M143.18 89.31L145.58 93.80L140.78 93.80Z" fill="#000000"/>
<path d="M146.71 91.68L149.11 96.17L144.31 96.17Z" fill="#000000"/>
<path d="M150.25 94.01L152.65 98.50L147.85 98.50Z" fill="#000000"/>
<path d="M153.79 96.32L156.19 100.81L151.39 100.81Z" fill="#000000"/>
<path d="M157.33 98.60L159.73 103.09L154.93 103.09Z" fill="#000000"/>
<path d="M160.87 100.86L163.27 105.35L158.47 105.35Z" fill="#000000"/>
<path d="M164.40 103.08L166.80 107.57L162.00 107.57Z" fill="#000000"/>
<path d="M167.94 105.27L170.34 109.76L165.54 109.76Z" fill="#000000"/>
<path d="M171.48 107.42L173.88 111.91L169.08 111.91Z" fill="#000000"/>
<path d="M175.02 109.53L177.42 114.02L172.62 114.02Z" fill="#000000"/>
<path d="M178.56 111.61L180.96 116.10L176.16 116.10Z" fill="#000000"/>
<path d="M182.09 113.64L184.49 118.13L179.69 118.13Z" fill="#000000"/>
<path d="M185.63 115.63L188.03 120.11L183.23 120.11Z" fill="#000000"/>
<path d="M189.17 117.57L191.57 122.06L186.77 122.06Z" fill="#000000"/>
<path d="M192.71 119.45L195.11 123.94L190.31 123.94Z" fill="#000000"/>
<path d="M196.24 121.29L198.64 125.77L193.84 125.77Z" fill="#000000"/>
<path d="M199.78 123.07L202.18 127.55L197.38 127.55Z" fill="#000000"/>
<path d="M203.32 124.78L205.72 129.27L200.92 129.27Z" fill="#000000"/>
<path d="M206.86 126.44L209.26 130.93L204.46 130.93Z" fill="#000000"/>
<path d="M210.40 128.04L212.80 132.52L208.00 132.52Z" fill="#000000"/>
<path d="M213.93 129.56L216.33 134.05L211.53 134.05Z" fill="#000000"/>
<path d="M217.47 131.03L219.87 135.51L215.07 135.51Z" fill="#000000"/>
<path d="M221.01 132.41L223.41 136.90L218.61 136.90Z" fill="#000000"/>
<path d="M224.55 133.74L226.95 138.23L222.15 138.23Z" fill="#000000"/>
<path d="M228.09 134.99L230.49 139.48L225.69 139.48Z" fill="#000000"/>
<path d="M231.62 136.18L234.02 140.67L229.22 140.67Z" fill="#000000"/>
<path d="M235.16 137.31L237.56 141.79L232.76 141.79Z" fill="#000000"/>
<path d="M238.70 138.37L241.10 142.86L236.30 142.86Z" fill="#000000"/>
<path d="M242.24 139.37L244.64 143.86L239.84 143.86Z" fill="#000000"/>
<path d="M245.78 140.32L248.18 144.81L243.38 144.81Z" fill="#000000"/>
<path d="M249.31 141.22L251.71 145.71L246.91 145.71Z" fill="#000000"/>
<path d="M252.85 142.07L255.25 146.55L250.45 146.55Z" fill="#000000"/>
<path d="M256.39 142.87L258.79 147.35L253.99 147.35Z" fill="#000000"/>
<path d="M259.93 143.62L262.33 148.11L257.53 148.11Z" fill="#000000"/>
<path d="M263.47 144.33L265.87 148.81L261.07 148.81Z" fill="#000000"/>
<path d="M267.00 144.99L269.40 149.48L264.60 149.48Z" fill="#000000"/>
<path d="M270.54 145.62L272.94 150.11L268.14 150.11Z" fill="#000000"/>
<path d="M274.08 146.22L276.48 150.70L271.68 150.70Z" fill="#000000"/>
<path d="M277.62 146.77L280.02 151.26L275.22 151.26Z" fill="#000000"/>
<path d="M281.16 147.29L283.56 151.78L278.76 151.78Z" fill="#000000"/>
<path d="M284.69 147.78L287.09 152.26L282.29 152.26Z" fill="#000000"/>
<path d="M288.23 148.23L290.63 152.72L285.83 152.72Z" fill="#000000"/>
<path d="M291.77 148.67L294.17 153.16L289.37 153.16Z" fill="#000000"/>
<path d="M295.31 149.08L297.71 153.57L292.91 153.57Z" fill="#000000"/>
<path d="M298.84 149.45L301.24 153.94L296.44 153.94Z" fill="#000000"/>
<path d="M302.38 149.81L304.78 154.30L299.98 154.30Z" fill="#000000"/>
<path d="M305.92 150.16L308.32 154.64L303.52 154.64Z" fill="#000000"/>
<path d="M309.46 150.48L311.86 154.96L307.06 154.96Z" fill="#000000"/>
<path d="M313.00 150.77L315.40 155.26L310.60 155.26Z" fill="#000000"/>
<path d="M316.53 151.07L318.93 155.56L314.13 155.56Z" fill="#000000"/>
<path d="M320.07 151.34L322.47 155.82L317.67 155.82Z" fill="#000000"/>
<path d="M323.61 151.59L326.01 156.08L321.21 156.08Z" fill="#000000"/>
</g>
<g>
<path d="M33.50 15.12L35.90 10.63L31.10 10.63Z" fill="#ff4500"/>
<path d="M37.04 17.96L39.44 13.47L34.64 13.47Z" fill="#ff4500"/>
<path d="M40.58 20.78L42.98 16.29L38.18 16.29Z" fill="#ff4500"/>
<path d="M44.11 23.58L46.51 19.09L41.71 19.09Z" fill="#ff4500"/>
<path d="M47.65 26.35L50.05 21.86L45.25 21.86Z" fill="#ff4500"/>
<path d="M51.19 29.11L53.59 24.62L48.79 24.62Z" fill="#ff4500"/>
<path d="M54.73 31.86L57.13 27.37L52.33 27.37Z" fill="#ff4500"/>
<path d="M58.27 34.60L60.67 30.11L55.87 30.11Z" fill="#ff4500"/>
<path d="M61.80 37.32L64.20 32.83L59.40 32.83Z" fill="#ff4500"/>
<path d="M65.34 40.03L67.74 35.54L62.94 35.54Z" fill="#ff4500"/>
<path d="M68.88 42.73L71.28 38.24L66.48 38.24Z" fill="#ff4500"/>
<path d="M72.42 45.43L74.82 40.94L70.02 40.94Z" fill="#ff4500"/>
<path d="M75.96 48.11L78.36 43.62L73.56 43.62Z" fill="#ff4500"/>
<path d="M79.49 50.78L81.89 46.29L77.09 46.29Z" fill="#ff4500"/>
<path d="M83.03 53.44L85.43 48.96L80.63 48.96Z" fill="#ff4500"/>
<path d="M86.57 56.09L88.97 51.60L84.17 51.60Z" fill="#ff4500"/>
<path d="M90.11 58.73L92.51 54.24L87.71 54.24Z" fill="#ff4500"/>
<path d="M93.64 61.36L96.04 56.87L91.24 56.87Z" fill="#ff4500"/>
<path d="M97.18 63.98L99.58 59.50L94.78 59.50Z" fill="#ff4500"/>
<path d="M100.72 66.59L103.12 62.10L98.32 62.10Z" fill="#ff4500"/>
<path d="M104.26 69.19L106.66 64.70L101.86 64.70Z" fill="#ff4500"/>
<path d="M107.80 71.77L110.20 67.28L105.40 67.28Z" fill="#ff4500"/>
<path d="M111.33 74.34L113.73 69.85L108.93 69.85Z" fill="#ff4500"/>
<path d="M114.87 76.89L117.27 72.41L112.47 72.41Z" fill="#ff4500"/>
<path d="M118.41 79.43L120.81 74.94L116.01 74.94Z" fill="#ff4500"/>
<path d="M121.95 81.97L124.35 77.48L119.55 77.48Z" fill="#ff4500"/>
<path d="M125.49 84.47L127.89 79.99L123.09 79.99Z" fill="#ff4500"/>
<path d="M129.02 86.98L131.42 82.49L126.62 82.49Z" fill="#ff4500"/>
<path d="M132.56 89.47L134.96 84.98L130.16 84.98Z" fill="#ff4500"/>
<path d="M136.10 91.95L138.50 87.46L133.70 87.46Z" fill="#ff4500"/>
<path d="M139.64 94.42L142.04 89.93L137.24 89.93Z" fill="#ff4500"/>
<path d="M143.18 96.88L145.58 92.40L140.78 92.40Z" fill="#ff4500"/>
<path d="M146.71 99.33L149.11 94.84L144.31 94.84Z" fill="#ff4500"/>
<path d="M150.25 101.75L152.65 97.26L147.85 97.26Z" fill="#ff4500"/>
<path d="M153.79 104.17L156.19 99.68L151.39 99.68Z" fill="#ff4500"/>
<path d="M157.33 106.56L159.73 102.07L154.93 102.07Z" fill="#ff4500"/>
<path d="M160.87 108.93L163.27 104.45L158.47 104.45Z" fill="#ff4500"/>
<path d="M164.40 111.28L166.80 106.79L162.00 106.79Z" fill="#ff4500"/>
<path d="M167.94 113.60L170.34 109.11L165.54 109.11Z" fill="#ff4500"/>
<path d="M171.48 115.89L173.88 111.40L169.08 111.40Z" fill="#ff4500"/>
<path d="M175.02 118.15L177.42 113.66L172.62 113.66Z" fill="#ff4500"/>
<path d="M178.56 120.38L180.96 115.89L176.16 115.89Z" fill="#ff4500"/>
<path d="M182.09 122.57L184.49 118.08L179.69 118.08Z" fill="#ff4500"/>
<path d="M185.63 124.72L188.03 120.23L183.23 120.23Z" fill="#ff4500"/>
<path d="M189.17 126.82L191.57 122.33L186.77 122.33Z" fill="#ff4500"/>
<path d="M192.71 128.87L195.11 124.38L190.31 124.38Z" fill="#ff4500"/>
<path d="M196.24 130.88L198.64 126.39L193.84 126.39Z" fill="#ff4500"/>
<path d="M199.78 132.83L202.18 128.34L197.38 128.34Z" fill="#ff4500"/>
<path d="M203.32 134.74L205.72 130.25L200.92 130.25Z" fill="#ff4500"/>
<path d="M206.86 136.59L209.26 132.10L204.46 132.10Z" fill="#ff4500"/>
<path d="M210.40 138.39L212.80 133.90L208.00 133.90Z" fill="#ff4500"/>
<path d="M213.93 140.12L216.33 135.63L211.53 135.63Z" fill="#ff4500"/>
<path d="M217.47 141.80L219.87 137.31L215.07 137.31Z" fill="#ff4500"/>
<path d="M221.01 143.41L223.41 138.92L218.61 138.92Z" fill="#ff4500"/>
<path d="M224.55 144.95L226.95 140.47L222.15 140.47Z" fill="#ff4500"/>
<path d="M228.09 146.44L230.49 141.95L225.69 141.95Z" fill="#ff4500"/>
<path d="M231.62 147.86L234.02 143.37L229.22 143.37Z" fill="#ff4500"/>
<path d="M235.16 149.22L237.56 144.73L232.76 144.73Z" fill="#ff4500"/>
<path d="M238.70 150.51L241.10 146.02L236.30 146.02Z" fill="#ff4500"/>
<path d="M242.24 151.74L244.64 147.25L239.84 147.25Z" fill="#ff4500"/>
<path d="M245.78 152.91L248.18 148.42L243.38 148.42Z" fill="#ff4500"/>
<path d="M249.31 154.02L251.71 149.53L246.91 149.53Z" fill="#ff4500"/>
<path d="M252.85 155.06L255.25 150.57L250.45 150.57Z" fill="#ff4500"/>
<path d="M256.39 156.06L258.79 151.57L253.99 151.57Z" fill="#ff4500"/>
<path d="M259.93 157.00L262.33 152.51L257.53 152.51Z" fill="#ff4500"/>
<path d="M263.47 157.87L265.87 153.38L261.07 153.38Z" fill="#ff4500"/>
<path d="M267.00 158.70L269.40 154.21L264.60 154.21Z" fill="#ff4500"/>
<path d="M270.54 159.47L272.94 154.99L268.14 154.99Z" fill="#ff4500"/>
<path d="M274.08 160.20L276.48 155.71L271.68 155.71Z" fill="#ff4500"/>
<path d="M277.62 160.87L280.02 156.39L275.22 156.39Z" fill="#ff4500"/>
<path d="M281.16 161.50L283.56 157.01L278.76 157.01Z" fill="#ff4500"/>
<path d="M284.69 162.08L287.09 157.60L282.29 157.60Z" fill="#ff4500"/>
<path d="M288.23 162.62L290.63 158.14L285.83 158.14Z" fill="#ff4500"/>
<path d="M291.77 163.13L294.17 158.64L289.37 158.64Z" fill="#ff4500"/>
<path d="M295.31 163.59L297.71 159.10L292.91 159.10Z" fill="#ff4500"/>
<path d="M298.84 164.01L301.24 159.52L296.44 159.52Z" fill="#ff4500"/>
<path d="M302.38 164.40L304.78 159.92L299.98 159.92Z" fill="#ff4500"/>
<path d="M305.92 164.76L308.32 160.27L303.52 160.27Z" fill="#ff4500"/>
<path d="M309.46 165.09L311.86 160.60L307.06 160.60Z" fill="#ff4500"/>
<path d="M313.00 165.39L315.40 160.90L310.60 160.90Z" fill="#ff4500"/>
<path d="M316.53 165.66L318.93 161.18L314.13 161.18Z" fill="#ff4500"/>
<path d="M320.07 165.91L322.47 161.42L317.67 161.42Z" fill="#ff4500"/>
<path d="M323.61 166.13L326.01 161.64L321.21 161.64Z" fill="#ff4500"/>
</g>
<g>
<path d="M33.50 10.94L35.70 13.14L33.50 15.34L31.30 13.14Z" fill="#808080"/>
<path d="M37.04 13.78L39.24 15.98L37.04 18.18L34.84 15.98Z" fill="#808080"/>
<path d="M40.58 16.58L42.78 18.78L40.58 20.98L38.38 18.78Z" fill="#808080"/>
<path d="M44.11 19.37L46.31 21.57L44.11 23.77L41.91 21.57Z" fill="#808080"/>
<path d="M47.65 22.13L49.85 24.33L47.65 26.53L45.45 24.33Z" fill="#808080"/>
<path d="M51.19 24.88L53.39 27.08L51.19 29.28L48.99 27.08Z" fill="#808080"/>
<path d="M54.73 27.62L56.93 29.82L54.73 32.02L52.53 29.82Z" fill="#808080"/>
<path d="M58.27 30.34L60.47 32.54L58.27 34.74L56.07 32.54Z" fill="#808080"/>
<path d="M61.80 33.05L64.00 35.25L61.80 37.45L59.60 35.25Z" fill="#808080"/>
<path d="M65.34 35.76L67.54 37.96L65.34 40.16L63.14 37.96Z" fill="#808080"/>
<path d="M68.88 38.45L71.08 40.65L68.88 42.85L66.68 40.65Z" fill="#808080"/>
<path d="M72.42 41.13L74.62 43.33L72.42 45.53L70.22 43.33Z" fill="#808080"/>
<path d="M75.96 43.81L78.16 46.01L75.96 48.21L73.76 46.01Z" fill="#808080"/>
<path d="M79.49 46.47L81.69 48.67L79.49 50.87L77.29 48.67Z" fill="#808080"/>
<path d="M83.03 49.12L85.23 51.32L83.03 53.52L80.83 51.32Z" fill="#808080"/>
<path d="M86.57 51.77L88.77 53.97L86.57 56.17L84.37 53.97Z" fill="#808080"/>
<path d="M90.11 54.40L92.31 56.60L90.11 58.80L87.91 56.60Z" fill="#808080"/>
<path d="M93.64 57.02L95.84 59.22L93.64 61.42L91.44 59.22Z" fill="#808080"/>
<path d="M97.18 59.63L99.38 61.83L97.18 64.03L94.98 61.83Z" fill="#808080"/>
<path d="M100.72 62.23L102.92 64.43L100.72 66.63L98.52 64.43Z" fill="#808080"/>
<path d="M104.26 64.81L106.46 67.01L104.26 69.21L102.06 67.01Z" fill="#808080"/>
<path d="M107.80 67.37L110.00 69.57L107.80 71.77L105.60 69.57Z" fill="#808080"/>
<path d="M111.33 69.92L113.53 72.12L111.33 74.32L109.13 72.12Z" fill="#808080"/>
<path d="M114.87 72.46L117.07 74.66L114.87 76.86L112.67 74.66Z" fill="#808080"/>
<path d="M118.41 74.98L120.61 77.18L118.41 79.38L116.21 77.18Z" fill="#808080"/>
<path d="M121.95 77.49L124.15 79.69L121.95 81.89L119.75 79.69Z" fill="#808080"/>
<path d="M125.49 79.99L127.69 82.19L125.49 84.39L123.29 82.19Z" fill="#808080"/>
<path d="M129.02 82.48L131.22 84.68L129.02 86.88L126.82 84.68Z" fill="#808080"/>
<path d="M132.56 84.97L134.76 87.17L132.56 89.37L130.36 87.17Z" fill="#808080"/>
<path d="M136.10 87.45L138.30 89.65L136.10 91.85L133.90 89.65Z" fill="#808080"/>
<path d="M139.64 89.92L141.84 92.12L139.64 94.32L137.44 92.12Z" fill="#808080"/>
<path d="M143.18 92.39L145.38 94.59L143.18 96.79L140.98 94.59Z" fill="#808080"/>
<path d="M146.71 94.86L148.91 97.06L146.71 99.26L144.51 97.06Z" fill="#808080"/>
<path d="M150.25 97.32L152.45 99.52L150.25 101.72L148.05 99.52Z" fill="#808080"/>
<path d="M153.79 99.77L155.99 101.97L153.79 104.17L151.59 101.97Z" fill="#808080"/>
<path d="M157.33 102.21L159.53 104.41L157.33 106.61L155.13 104.41Z" fill="#808080"/>
<path d="M160.87 104.64L163.07 106.84L160.87 109.04L158.67 106.84Z" fill="#808080"/>
<path d="M164.40 107.05L166.60 109.25L164.40 111.45L162.20 109.25Z" fill="#808080"/>
<path d="M167.94 109.44L170.14 111.64L167.94 113.84L165.74 111.64Z" fill="#808080"/>
<path d="M171.48 111.80L173.68 114.00L171.48 116.20L169.28 114.00Z" fill="#808080"/>
<path d="M175.02 114.14L177.22 116.34L175.02 118.54L172.82 116.34Z" fill="#808080"/>
<path d="M178.56 116.45L180.76 118.65L178.56 120.85L176.36 118.65Z" fill="#808080"/>
<path d="M182.09 118.72L184.29 120.92L182.09 123.12L179.89 120.92Z" fill="#808080"/>
<path d="M185.63 120.95L187.83 123.15L185.63 125.35L183.43 123.15Z" fill="#808080"/>
<path d="M189.17 123.16L191.37 125.36L189.17 127.56L186.97 125.36Z" fill="#808080"/>
<path d="M192.71 125.31L194.91 127.51L192.71 129.71L190.51 127.51Z" fill="#808080"/>
<path d="M196.24 127.43L198.44 129.63L196.24 131.83L194.04 129.63Z" fill="#808080"/>
<path d="M199.78 129.51L201.98 131.71L199.78 133.91L197.58 131.71Z" fill="#808080"/>
<path d="M203.32 131.55L205.52 133.75L203.32 135.95L201.12 133.75Z" fill="#808080"/>
<path d="M206.86 133.55L209.06 135.75L206.86 137.95L204.66 135.75Z" fill="#808080"/>
<path d="M210.40 135.50L212.60 137.70L210.40 139.90L208.20 137.70Z" fill="#808080"/>
<path d="M213.93 137.41L216.13 139.61L213.93 141.81L211.73 139.61Z" fill="#808080"/>
<path d="M217.47 139.29L219.67 141.49L217.47 143.69L215.27 141.49Z" fill="#808080"/>
<path d="M221.01 141.11L223.21 143.31L221.01 145.51L218.81 143.31Z" fill="#808080"/>
<path d="M224.55 142.88L226.75 145.08L224.55 147.28L222.35 145.08Z" fill="#808080"/>
<path d="M228.09 144.60L230.29 146.80L228.09 149.00L225.89 146.80Z" fill="#808080"/>
<path d="M231.62 146.27L233.82 148.47L231.62 150.67L229.42 148.47Z" fill="#808080"/>
<path d="M235.16 147.87L237.36 150.07L235.16 152.27L232.96 150.07Z" fill="#808080"/>
<path d="M238.70 149.40L240.90 151.60L238.70 153.80L236.50 151.60Z" fill="#808080"/>
<path d="M242.24 150.88L244.44 153.08L242.24 155.28L240.04 153.08Z" fill="#808080"/>
<path d="M245.78 152.29L247.98 154.49L245.78 156.69L243.58 154.49Z" fill="#808080"/>
<path d="M249.31 153.62L251.51 155.82L249.31 158.02L247.11 155.82Z" fill="#808080"/>
<path d="M252.85 154.88L255.05 157.08L252.85 159.28L250.65 157.08Z" fill="#808080"/>
<path d="M256.39 156.06L258.59 158.26L256.39 160.46L254.19 158.26Z" fill="#808080"/>
<path d="M259.93 157.17L262.13 159.37L259.93 161.57L257.73 159.37Z" fill="#808080"/>
<path d="M263.47 158.21L265.67 160.41L263.47 162.61L261.27 160.41Z" fill="#808080"/>
<path d="M267.00 159.18L269.20 161.38L267.00 163.58L264.80 161.38Z" fill="#808080"/>
<path d="M270.54 160.08L272.74 162.28L270.54 164.48L268.34 162.28Z" fill="#808080"/>
<path d="M274.08 160.92L276.28 163.12L274.08 165.32L271.88 163.12Z" fill="#808080"/>
<path d="M277.62 161.71L279.82 163.91L277.62 166.11L275.42 163.91Z" fill="#808080"/>
<path d="M281.16 162.44L283.36 164.64L281.16 166.84L278.96 164.64Z" fill="#808080"/>
<path d="M284.69 163.11L286.89 165.31L284.69 167.51L282.49 165.31Z" fill="#808080"/>
<path d="M288.23 163.73L290.43 165.93L288.23 168.13L286.03 165.93Z" fill="#808080"/>
<path d="M291.77 164.31L293.97 166.51L291.77 168.71L289.57 166.51Z" fill="#808080"/>
<path d="M295.31 164.86L297.51 167.06L295.31 169.26L293.11 167.06Z" fill="#808080"/>
<path d="M298.84 165.36L301.04 167.56L298.84 169.76L296.64 167.56Z" fill="#808080"/>
<path d="M302.38 165.83L304.58 168.03L302.38 170.23L300.18 168.03Z" fill="#808080"/>
<path d="M305.92 166.27L308.12 168.47L305.92 170.67L303.72 168.47Z" fill="#808080"/>
<path d="M309.46 166.69L311.66 168.89L309.46 171.09L307.26 168.89Z" fill="#808080"/>
<path d="M313.00 167.08L315.20 169.28L313.00 171.48L310.80 169.28Z" fill="#808080"/>
<path d="M316.53 167.46L318.73 169.66L316.53 171.86L314.33 169.66Z" fill="#808080"/>
<path d="M320.07 167.83L322.27 170.03L320.07 172.23L317.87 170.03Z" fill="#808080"/>
<path d="M323.61 168.19L325.81 170.39L323.61 172.59L321.41 170.39Z" fill="#808080"/>
</g>
<g>
<circle cx="33.50" cy="14.38" r="1.75" fill="#ff0000"/>
<circle cx="37.04" cy="17.15" r="1.75" fill="#ff0000"/>
<circle cx="40.58" cy="19.91" r="1.75" fill="#ff0000"/>
<circle cx="44.11" cy="22.64" r="1.75" fill="#ff0000"/>
<circle cx="47.65" cy="25.37" r="1.75" fill="#ff0000"/>
<circle cx="51.19" cy="28.08" r="1.75" fill="#ff0000"/>
<circle cx="54.73" cy="30.78" r="1.75" fill="#ff0000"/>
<circle cx="58.27" cy="33.45" r="1.75" fill="#ff0000"/>
<circle cx="61.80" cy="36.12" r="1.75" fill="#ff0000"/>
<circle cx="65.34" cy="38.77" r="1.75" fill="#ff0000"/>
<circle cx="68.88" cy="41.42" r="1.75" fill="#ff0000"/>
<circle cx="72.42" cy="44.06" r="1.75" fill="#ff0000"/>
<circle cx="75.96" cy="46.68" r="1.75" fill="#ff0000"/>
<circle cx="79.49" cy="49.30" r="1.75" fill="#ff0000"/>
<circle cx="83.03" cy="51.91" r="1.75" fill="#ff0000"/>
<circle cx="86.57" cy="54.51" r="1.75" fill="#ff0000"/>
<circle cx="90.11" cy="57.10" r="1.75" fill="#ff0000"/>
<circle cx="93.64" cy="59.70" r="1.75" fill="#ff0000"/>
<circle cx="97.18" cy="62.28" r="1.75" fill="#ff0000"/>
<circle cx="100.72" cy="64.85" r="1.75" fill="#ff0000"/>
<circle cx="104.26" cy="67.43" r="1.75" fill="#ff0000"/>
<circle cx="107.80" cy="70.01" r="1.75" fill="#ff0000"/>
<circle cx="111.33" cy="72.57" r="1.75" fill="#ff0000"/>
<circle cx="114.87" cy="75.13" r="1.75" fill="#ff0000"/>
<circle cx="118.41" cy="77.69" r="1.75" fill="#ff0000"/>
<circle cx="121.95" cy="80.25" r="1.75" fill="#ff0000"/>
<circle cx="125.49" cy="82.80" r="1.75" fill="#ff0000"/>
<circle cx="129.02" cy="85.34" r="1.75" fill="#ff0000"/>
<circle cx="132.56" cy="87.88" r="1.75" fill="#ff0000"/>
<circle cx="136.10" cy="90.41" r="1.75" fill="#ff0000"/>
<circle cx="139.64" cy="92.93" r="1.75" fill="#ff0000"/>
<circle cx="143.18" cy="95.45" r="1.75" fill="#ff0000"/>
<circle cx="146.71" cy="97.95" r="1.75" fill="#ff0000"/>
<circle cx="150.25" cy="100.45" r="1.75" fill="#ff0000"/>
<circle cx="153.79" cy="102.93" r="1.75" fill="#ff0000"/>
<circle cx="157.33" cy="105.40" r="1.75" fill="#ff0000"/>
<circle cx="160.87" cy="107.85" r="1.75" fill="#ff0000"/>
<circle cx="164.40" cy="110.29" r="1.75" fill="#ff0000"/>
<circle cx="167.94" cy="112.71" r="1.75" fill="#ff0000"/>
<circle cx="171.48" cy="115.11" r="1.75" fill="#ff0000"/>
<circle cx="175.02" cy="117.48" r="1.75" fill="#ff0000"/>
<circle cx="178.56" cy="119.83" r="1.75" fill="#ff0000"/>
<circle cx="182.09" cy="122.15" r="1.75" fill="#ff0000"/>
<circle cx="185.63" cy="124.45" r="1.75" fill="#ff0000"/>
<circle cx="189.17" cy="126.72" r="1.75" fill="#ff0000"/>
<circle cx="192.71" cy="128.95" r="1.75" fill="#ff0000"/>
<circle cx="196.24" cy="131.16" r="1.75" fill="#ff0000"/>
<circle cx="199.78" cy="133.34" r="1.75" fill="#ff0000"/>
<circle cx="203.32" cy="135.48" r="1.75" fill="#ff0000"/>
<circle cx="206.86" cy="137.59" r="1.75" fill="#ff0000"/>
<circle cx="210.40" cy="139.66" r="1.75" fill="#ff0000"/>
<circle cx="213.93" cy="141.70" r="1.75" fill="#ff0000"/>
<circle cx="217.47" cy="143.71" r="1.75" fill="#ff0000"/>
<circle cx="221.01" cy="145.68" r="1.75" fill="#ff0000"/>
<circle cx="224.55" cy="147.61" r="1.75" fill="#ff0000"/>
<circle cx="228.09" cy="149.48" r="1.75" fill="#ff0000"/>
<circle cx="231.62" cy="151.30" r="1.75" fill="#ff0000"/>
<circle cx="235.16" cy="153.08" r="1.75" fill="#ff0000"/>
<circle cx="238.70" cy="154.78" r="1.75" fill="#ff0000"/>
<circle cx="242.24" cy="156.41" r="1.75" fill="#ff0000"/>
<circle cx="245.78" cy="157.98" r="1.75" fill="#ff0000"/>
<circle cx="249.31" cy="159.47" r="1.75" fill="#ff0000"/>
<circle cx="252.85" cy="160.88" r="1.75" fill="#ff0000"/>
<circle cx="256.39" cy="162.21" r="1.75" fill="#ff0000"/>
<circle cx="259.93" cy="163.45" r="1.75" fill="#ff0000"/>
<circle cx="263.47" cy="164.62" r="1.75" fill="#ff0000"/>
<circle cx="267.00" cy="165.72" r="1.75" fill="#ff0000"/>
<circle cx="270.54" cy="166.73" r="1.75" fill="#ff0000"/>
<circle cx="274.08" cy="167.67" r="1.75" fill="#ff0000"/>
<circle cx="277.62" cy="168.56" r="1.75" fill="#ff0000"/>
<circle cx="281.16" cy="169.38" r="1.75" fill="#ff0000"/>
<circle cx="284.69" cy="170.14" r="1.75" fill="#ff0000"/>
<circle cx="288.23" cy="170.84" r="1.75" fill="#ff0000"/>
<circle cx="291.77" cy="171.50" r="1.75" fill="#ff0000"/>
<circle cx="295.31" cy="172.12" r="1.75" fill="#ff0000"/>
<circle cx="298.84" cy="172.68" r="1.75" fill="#ff0000"/>
<circle cx="302.38" cy="173.22" r="1.75" fill="#ff0000"/>
<circle cx="305.92" cy="173.73" r="1.75" fill="#ff0000"/>
<circle cx="309.46" cy="174.20" r="1.75" fill="#ff0000"/>
<circle cx="313.00" cy="174.66" r="1.75" fill="#ff0000"/>
<circle cx="316.53" cy="175.09" r="1.75" fill="#ff0000"/>
<circle cx="320.07" cy="175.52" r="1.75" fill="#ff0000"/>
<circle cx="323.61" cy="175.94" r="1.75" fill="#ff0000"/>
</g>
</g>
<g stroke="#000" stroke-width="1" fill="none">
<path d="M33.5 5.1V205.5M33.0 205.0H327.3"/>
<path d="M33.0 5.6H327.3M326.8 5.1V205.5" stroke="#4a4a4a" stroke-width="1.2"/>
<path d="M33.50 205.0v-3.6M33.50 5.5v3.9"/>
<path d="M70.16 205.0v-3.6M70.16 5.5v3.9"/>
<path d="M106.83 205.0v-3.6M106.83 5.5v3.9"/>
<path d="M143.49 205.0v-3.6M143.49 5.5v3.9"/>
<path d="M180.15 205.0v-3.6M180.15 5.5v3.9"/>
<path d="M216.81 205.0v-3.6M216.81 5.5v3.9"/>
<path d="M253.48 205.0v-3.6M253.48 5.5v3.9"/>
<path d="M290.14 205.0v-3.6M290.14 5.5v3.9"/>
<path d="M326.80 205.0v-3.6M326.80 5.5v3.9"/>
<path d="M33.5 205.00h3.6M326.8 205.00h-3.6"/>
<path d="M33.5 186.84h2.0M326.8 186.84h-2.0"/>
<path d="M33.5 176.21h2.0M326.8 176.21h-2.0"/>
<path d="M33.5 168.68h2.0M326.8 168.68h-2.0"/>
<path d="M33.5 162.83h2.0M326.8 162.83h-2.0"/>
<path d="M33.5 158.05h2.0M326.8 158.05h-2.0"/>
<path d="M33.5 154.01h2.0M326.8 154.01h-2.0"/>
<path d="M33.5 150.51h2.0M326.8 150.51h-2.0"/>
<path d="M33.5 147.43h2.0M326.8 147.43h-2.0"/>
<path d="M33.5 144.67h3.6M326.8 144.67h-3.6"/>
<path d="M33.5 126.50h2.0M326.8 126.50h-2.0"/>
<path d="M33.5 115.88h2.0M326.8 115.88h-2.0"/>
<path d="M33.5 108.34h2.0M326.8 108.34h-2.0"/>
<path d="M33.5 102.50h2.0M326.8 102.50h-2.0"/>
<path d="M33.5 97.72h2.0M326.8 97.72h-2.0"/>
<path d="M33.5 93.68h2.0M326.8 93.68h-2.0"/>
<path d="M33.5 90.18h2.0M326.8 90.18h-2.0"/>
<path d="M33.5 87.09h2.0M326.8 87.09h-2.0"/>
<path d="M33.5 84.33h3.6M326.8 84.33h-3.6"/>
<path d="M33.5 66.17h2.0M326.8 66.17h-2.0"/>
<path d="M33.5 55.55h2.0M326.8 55.55h-2.0"/>
<path d="M33.5 48.01h2.0M326.8 48.01h-2.0"/>
<path d="M33.5 42.16h2.0M326.8 42.16h-2.0"/>
<path d="M33.5 37.38h2.0M326.8 37.38h-2.0"/>
<path d="M33.5 33.35h2.0M326.8 33.35h-2.0"/>
<path d="M33.5 29.85h2.0M326.8 29.85h-2.0"/>
<path d="M33.5 26.76h2.0M326.8 26.76h-2.0"/>
<path d="M33.5 24.00h3.6M326.8 24.00h-3.6"/>
<path d="M33.5 5.84h2.0M326.8 5.84h-2.0"/>
<path d="M33.5 5.84h2.0M326.8 5.84h-2.0"/>
</g>
<g font-family="Liberation Sans, sans-serif" font-size="13" fill="#000">
<text x="36.10" y="222.5" text-anchor="middle">0</text>
<text x="72.76" y="222.5" text-anchor="middle">0.5</text>
<text x="109.42" y="222.5" text-anchor="middle">1</text>
<text x="146.09" y="222.5" text-anchor="middle">1.5</text>
<text x="182.75" y="222.5" text-anchor="middle">2</text>
<text x="219.41" y="222.5" text-anchor="middle">2.5</text>
<text x="256.08" y="222.5" text-anchor="middle">3</text>
<text x="292.74" y="222.5" text-anchor="middle">3.5</text>
<text x="329.40" y="222.5" text-anchor="middle">4</text>
<text x="2.8" y="210.30">10<tspan font-size="10" dy="-5.8" dx="-1.0">-4</tspan></text>
<text x="2.8" y="149.97">10<tspan font-size="10" dy="-5.8" dx="-1.0">-3</tspan></text>
<text x="2.8" y="89.63">10<tspan font-size="10" dy="-5.8" dx="-1.0">-2</tspan></text>
<text x="2.8" y="29.30">10<tspan font-size="10" dy="-5.8" dx="-1.0">-1</tspan></text>
<text x="70.6" y="78.6">a)</text>
<text transform="translate(174.6 243) scale(0.86 1)">γ</text><text x="182.4" y="243">t</text>
<text x="81.6" y="107.10" text-anchor="end" font-size="13.5">L=8a</text>
<text x="81.6" y="120.35" text-anchor="end" font-size="13.5">L=16a</text>
<text x="81.6" y="133.60" text-anchor="end" font-size="13.5">L=24a</text>
<text x="81.6" y="146.85" text-anchor="end" font-size="13.5">L=32a</text>
<text x="81.6" y="160.10" text-anchor="end" font-size="13.5">L=40a</text>
<text x="81.6" y="173.35" text-anchor="end" font-size="13.5">L=48a</text>
<text x="81.6" y="186.60" text-anchor="end" font-size="13.5">L=56a</text>
<text x="81.6" y="199.85" text-anchor="end" font-size="13.5">L=64a</text>
</g>
<path d="M89.2 102.30H124.6M89.2 100.00v4.6M124.6 100.00v4.6" stroke="#000000" stroke-width="0.85" fill="none"/>
<circle cx="107.00" cy="102.30" r="1.55" fill="#000000" fill-opacity="0.4" stroke="#000000" stroke-width="1.2"/>
<path d="M89.2 115.55H124.6M89.2 113.25v4.6M124.6 113.25v4.6" stroke="#ff0000" stroke-width="0.85" fill="none"/>
<rect x="105.25" y="113.80" width="3.5" height="3.5" fill="#ff0000"/>
<path d="M89.2 128.80H124.6M89.2 126.50v4.6M124.6 126.50v4.6" stroke="#0000ff" stroke-width="0.85" fill="none"/>
<circle cx="107.00" cy="128.80" r="1.55" fill="#0000ff" fill-opacity="0.4" stroke="#0000ff" stroke-width="1.2"/>
<path d="M89.2 142.05H124.6M89.2 139.75v4.6M124.6 139.75v4.6" stroke="#00ff00" stroke-width="0.85" fill="none"/>
<rect x="105.30" y="140.35" width="3.4" height="3.4" fill="#00ff00" fill-opacity="0.4" stroke="#00ff00" stroke-width="1.15"/>
<path d="M89.2 155.30H124.6M89.2 153.00v4.6M124.6 153.00v4.6" stroke="#000000" stroke-width="0.85" fill="none"/>
<path d="M107.00 152.30L109.40 156.79L104.60 156.79Z" fill="#000000"/>
<path d="M89.2 168.55H124.6M89.2 166.25v4.6M124.6 166.25v4.6" stroke="#ff4500" stroke-width="0.85" fill="none"/>
<path d="M107.00 171.55L109.40 167.06L104.60 167.06Z" fill="#ff4500"/>
<path d="M89.2 181.80H124.6M89.2 179.50v4.6M124.6 179.50v4.6" stroke="#808080" stroke-width="0.85" fill="none"/>
<path d="M107.00 179.60L109.20 181.80L107.00 184.00L104.80 181.80Z" fill="#808080"/>
<path d="M89.2 195.05H124.6M89.2 192.75v4.6M124.6 192.75v4.6" stroke="#ff0000" stroke-width="0.85" fill="none"/>
<circle cx="107.00" cy="195.05" r="1.75" fill="#ff0000"/>
</svg>
</body></html>
